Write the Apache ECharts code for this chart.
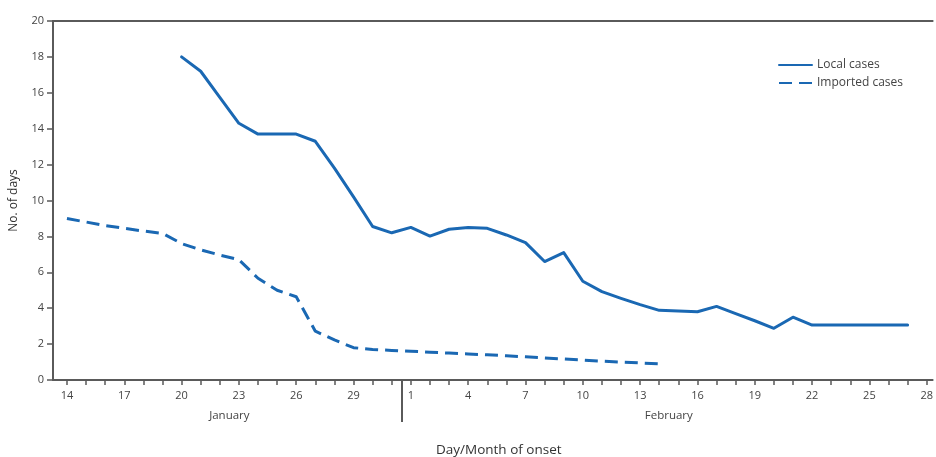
<!DOCTYPE html>
<html>
<head>
<meta charset="utf-8">
<script src="https://cdn.jsdelivr.net/npm/echarts@6/dist/echarts.min.js"></script>
<style>
  html, body { margin: 0; padding: 0; background: #fff; }
  #chart { width: 936px; height: 457px; }
</style>
</head>
<body>
<div id="chart"></div>
<script>
// Day index 0 = 14 January
const tickLabels = ['14', '17', '20', '23', '26', '29', '1', '4', '7', '10', '13', '16', '19', '22', '25', '28'];
const monthNames = ['January', 'February'];
const monthCenters = [8.5, 31.5];      // middle of each month's day span
const monthDivider = [17.5];           // between 31 January and 1 February

// Local cases: 20 January (index 6) to 27 February
const localStart = 6;
const localValues = [18.0, 17.2, 15.75, 14.3, 13.7, 13.7, 13.7, 13.3, 11.8, 10.2, 8.55, 8.2,
  8.5, 8.02, 8.4, 8.5, 8.45, 8.08, 7.65, 6.6, 7.1, 5.5, 4.92, 4.55, 4.2, 3.88, 3.84, 3.8, 4.1,
  3.7, 3.3, 2.88, 3.5, 3.06, 3.06, 3.06, 3.06, 3.06, 3.06];

// Imported cases: 14 January (index 0) to 14 February
const importedStart = 0;
const importedValues = [9.0, 8.8, 8.6, 8.45, 8.3, 8.17, 7.6, 7.25, 6.96, 6.7, 5.67, 5.0, 4.64,
  2.72, 2.23, 1.8, 1.7, 1.65, 1.6, 1.55, 1.5, 1.45, 1.4, 1.35, 1.29, 1.23, 1.17, 1.11, 1.05,
  1.0, 0.95, 0.9];

const yTicks = [0, 2, 4, 6, 8, 10, 12, 14, 16, 18, 20];

const labelTickValues = tickLabels.map((_, i) => i * 3);
const dayTickValues = [];
for (let d = 0; d <= 45; d++) dayTickValues.push(d);

const toPairs = (start, vals) => vals.map((v, i) => [start + i, v]);

const FONT = 'Open Sans';
const BLUE = '#1a68b3';
const AXIS = '#5a5a5a';

const xMin = -0.73, xMax = 45.31;

const chart = echarts.init(document.getElementById('chart'), null, { renderer: 'canvas' });
chart.setOption({
  animation: false,
  backgroundColor: '#fff',
  textStyle: { fontFamily: FONT },
  title: {
    text: 'Day/Month of onset',
    left: 431, top: 438,
    textStyle: { fontFamily: FONT, fontSize: 13.5, fontWeight: 'normal', color: '#333' }
  },
  legend: {
    orient: 'vertical',
    left: 773, top: 54,
    itemWidth: 33, itemHeight: 14, itemGap: 6,
    itemStyle: { opacity: 0 },
    textStyle: { fontFamily: FONT, fontSize: 12, color: '#444' },
    data: ['Local cases', 'Imported cases']
  },
  grid: { left: 52, right: 0, top: 21, bottom: 77, containLabel: false },
  xAxis: [
    {
      type: 'value', min: xMin, max: xMax, position: 'bottom',
      splitLine: { show: false },
      axisLine: { show: true, onZero: false, lineStyle: { color: AXIS, width: 2 } },
      axisTick: { show: true, customValues: dayTickValues, length: 5, lineStyle: { color: AXIS, width: 1.5 } },
      axisLabel: {
        customValues: labelTickValues, margin: 10,
        fontFamily: FONT, fontSize: 11, color: '#444',
        formatter: v => tickLabels[Math.round(v / 3)]
      }
    },
    {
      type: 'value', min: xMin, max: xMax, position: 'bottom',
      splitLine: { show: false },
      axisLine: { show: false, onZero: false },
      axisTick: { show: true, customValues: monthDivider, length: 42, lineStyle: { color: AXIS, width: 2 } },
      axisLabel: {
        customValues: monthCenters, margin: 30,
        fontFamily: FONT, fontSize: 11.5, color: '#444',
        formatter: v => monthNames[monthCenters.indexOf(v)]
      }
    },
    {
      type: 'value', min: xMin, max: xMax, position: 'top',
      splitLine: { show: false },
      axisLine: { show: true, onZero: false, lineStyle: { color: AXIS, width: 2 } },
      axisTick: { show: false },
      axisLabel: { show: false }
    }
  ],
  yAxis: {
    type: 'value', min: 0, max: 20, interval: 2,
    name: 'No. of days', nameLocation: 'middle', nameGap: 33, nameRotate: 90,
    nameTextStyle: { fontFamily: FONT, fontSize: 12, color: '#333' },
    splitLine: { show: false },
    axisLine: { show: true, onZero: false, lineStyle: { color: AXIS, width: 2 } },
    axisTick: { show: true, length: 6, lineStyle: { color: AXIS, width: 1.5 } },
    axisLabel: {
      margin: 9, fontFamily: FONT, fontSize: 11, color: '#444',
      customValues: yTicks
    }
  },
  series: [
    {
      name: 'Local cases', type: 'line', xAxisIndex: 0,
      symbol: 'none', smooth: false,
      lineStyle: { color: BLUE, width: 3, join: 'round', cap: 'round' },
      itemStyle: { color: BLUE },
      data: toPairs(localStart, localValues)
    },
    {
      name: 'Imported cases', type: 'line', xAxisIndex: 0,
      symbol: 'none', smooth: false,
      lineStyle: { color: BLUE, width: 3, type: [13, 7], join: 'round' },
      itemStyle: { color: BLUE },
      data: toPairs(importedStart, importedValues)
    }
  ]
});
</script>
</body>
</html>
